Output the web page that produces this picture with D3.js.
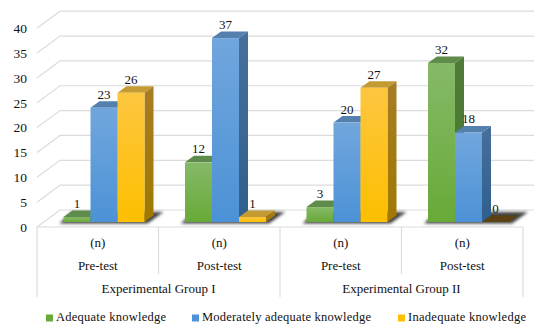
<!DOCTYPE html>
<html>
<head>
<meta charset="utf-8">
<script src="https://cdn.jsdelivr.net/npm/d3@7"></script>
<style>
html,body{margin:0;padding:0;background:#fff;}
svg{display:block;}
text{font-family:"Liberation Serif","Times New Roman",serif;fill:#111;}
</style>
</head>
<body>
<script>
// Knowledge levels by test phase in the two experimental groups
const phases = ["Pre-test", "Post-test", "Pre-test", "Post-test"];
const groups = ["Experimental Group I", "Experimental Group II"];
const seriesNames = ["Adequate knowledge", "Moderately adequate knowledge", "Inadequate knowledge"];
const adequate = [1, 12, 3, 32];
const moderate = [23, 37, 20, 18];
const inadequate = [26, 1, 27, 0];
const seriesValues = [adequate, moderate, inadequate];
const yTicks = [0, 5, 10, 15, 20, 25, 30, 35, 40];

const width = 534, height = 324;

// Extrusion of each bar and of the chart's floor, in pixels
const barDx = 9, barDy = -6.5;
const wallDx = 23, wallDy = -17;
const frontBase = 227, barBase = 222;

const svg = d3.select("body").append("svg").attr("width", width).attr("height", height);
const defs = svg.append("defs");

const palette = [
  {front: ["#86b968", "#68aa38"], side: ["#4f7a3a", "#4a7a2c"], top: "#5f8b4c"},
  {front: ["#71a6dd", "#4c92d6"], side: ["#47709b", "#2f5f8e"], top: "#5380ad"},
  {front: ["#fdc640", "#fdbf00"], side: ["#a67d24", "#a07800"], top: "#c49a32"}
];

function gradient(id, colors) {
  const g = defs.append("linearGradient").attr("id", id)
    .attr("x1", 0).attr("y1", 0).attr("x2", 0).attr("y2", 1);
  g.append("stop").attr("offset", 0).attr("stop-color", colors[0]);
  g.append("stop").attr("offset", 1).attr("stop-color", colors[1]);
}
palette.forEach((p, i) => {
  gradient("front" + i, p.front);
  gradient("side" + i, p.side);
});
defs.append("filter").attr("id", "floorShadow")
  .attr("x", "-20%").attr("y", "-60%").attr("width", "140%").attr("height", "220%")
  .append("feGaussianBlur").attr("stdDeviation", 1.8);

const y = d3.scaleLinear().domain([0, 40]).range([0, -198.8]);
const xBand = d3.scaleBand().domain(d3.range(phases.length)).range([37, 523]);
const xSeries = d3.scaleBand().domain(d3.range(seriesNames.length)).range([26.5, 107.5]);
const rightEnd = 534;

// Back wall, side wall and floor rules
const grid = svg.append("g").attr("fill", "none").attr("stroke", "#dcdcdc").attr("stroke-width", 1.2);
grid.selectAll("path").data(yTicks).join("path")
  .attr("d", v => {
    const yf = frontBase + y(v);
    return `M${xBand.range()[0]},${yf}L${xBand.range()[0] + wallDx},${yf + wallDy}L${rightEnd},${yf + wallDy}`;
  });

// Category table below the floor
const table = svg.append("g").attr("stroke", "#dcdcdc").attr("stroke-width", 1.2);
table.append("line").attr("x1", xBand.range()[0]).attr("x2", xBand.range()[1])
  .attr("y1", frontBase).attr("y2", frontBase);
d3.range(phases.length + 1).forEach(i => {
  const x = xBand.range()[0] + i * xBand.step();
  table.append("line").attr("x1", x).attr("x2", x)
    .attr("y1", frontBase).attr("y2", i % 2 === 0 ? 297 : 274);
});

// Soft shadow cast on the floor behind each cluster
svg.append("g").selectAll("path").data(phases).join("path")
  .attr("fill", "#2e2e2e").attr("opacity", 0.9).attr("filter", "url(#floorShadow)")
  .attr("d", (_, i) => {
    const l = xBand(i) + xSeries.range()[0];
    const r = xBand(i) + xSeries.range()[1];
    return `M${l - 4},${barBase + 1.5}L${r + 3},${barBase + 1.5}L${r + 19},${barBase - 10}L${l + 8},${barBase - 10}Z`;
  });

// 3D bars: top and side faces first, then the front face
const clusters = svg.append("g").selectAll("g").data(phases).join("g")
  .attr("transform", (_, i) => `translate(${xBand(i)},0)`);

clusters.each(function (_, i) {
  const cluster = d3.select(this);
  seriesValues.forEach((vals, s) => {
    const v = vals[i];
    const x0 = xSeries(s), x1 = x0 + xSeries.bandwidth();
    const yTop = barBase + y(v);
    const bar = cluster.append("g");
    bar.append("path")
      .attr("fill", v === 0 ? "#5a4311" : palette[s].top)
      .attr("d", `M${x0},${yTop}L${x0 + barDx},${yTop + barDy}L${x1 + barDx},${yTop + barDy}L${x1},${yTop}Z`);
    if (v > 0) {
      bar.append("path").attr("fill", `url(#side${s})`)
        .attr("d", `M${x1},${yTop}L${x1 + barDx},${yTop + barDy}L${x1 + barDx},${barBase + barDy}L${x1},${barBase}Z`);
      bar.append("rect").attr("x", x0).attr("y", yTop)
        .attr("width", xSeries.bandwidth()).attr("height", barBase - yTop)
        .attr("fill", `url(#front${s})`);
    }
  });
});

// Value labels sit over the bars
clusters.each(function (_, i) {
  const cluster = d3.select(this);
  seriesValues.forEach((vals, s) => {
    cluster.append("text")
      .attr("x", xSeries(s) + xSeries.bandwidth() / 2)
      .attr("y", barBase + y(vals[i]) - 13.5)
      .attr("dy", "0.34em").attr("text-anchor", "middle").attr("font-size", 13)
      .text(vals[i]);
  });
});

// Value axis labels
const axis = svg.append("g")
  .attr("transform", `translate(${xBand.range()[0]},${frontBase})`)
  .call(d3.axisLeft(y).tickValues(yTicks).tickSize(0).tickPadding(10));
axis.select(".domain").remove();
axis.selectAll("text").attr("font-size", 13.5).attr("font-family", "Liberation Serif").attr("fill", "#111");

// Category labels: unit, phase, group
const labels = svg.append("g").attr("text-anchor", "middle").attr("font-size", 13);
phases.forEach((p, i) => {
  const cx = xBand(i) + xBand.bandwidth() / 2;
  labels.append("text").attr("x", cx).attr("y", 243).attr("dy", "0.34em").text("(n)");
  labels.append("text").attr("x", cx).attr("y", 265.5).attr("dy", "0.34em").text(p);
});
groups.forEach((g, i) => {
  const cx = xBand.range()[0] + (i * 2 + 1) * xBand.step();
  labels.append("text").attr("x", cx).attr("y", 289).attr("dy", "0.34em").text(g);
});

// Legend along the bottom edge
const legendX = [46, 192, 398];
const legendLen = [110, 169, 118];
const legend = svg.append("g");
seriesNames.forEach((name, i) => {
  legend.append("rect").attr("x", legendX[i]).attr("y", 314.5).attr("width", 7).attr("height", 7)
    .attr("fill", palette[i].front[1]);
  legend.append("text").attr("x", legendX[i] + 10).attr("y", 320.6)
    .attr("font-size", 12.5).attr("textLength", legendLen[i]).attr("lengthAdjust", "spacing")
    .text(name);
});
</script>
</body>
</html>
